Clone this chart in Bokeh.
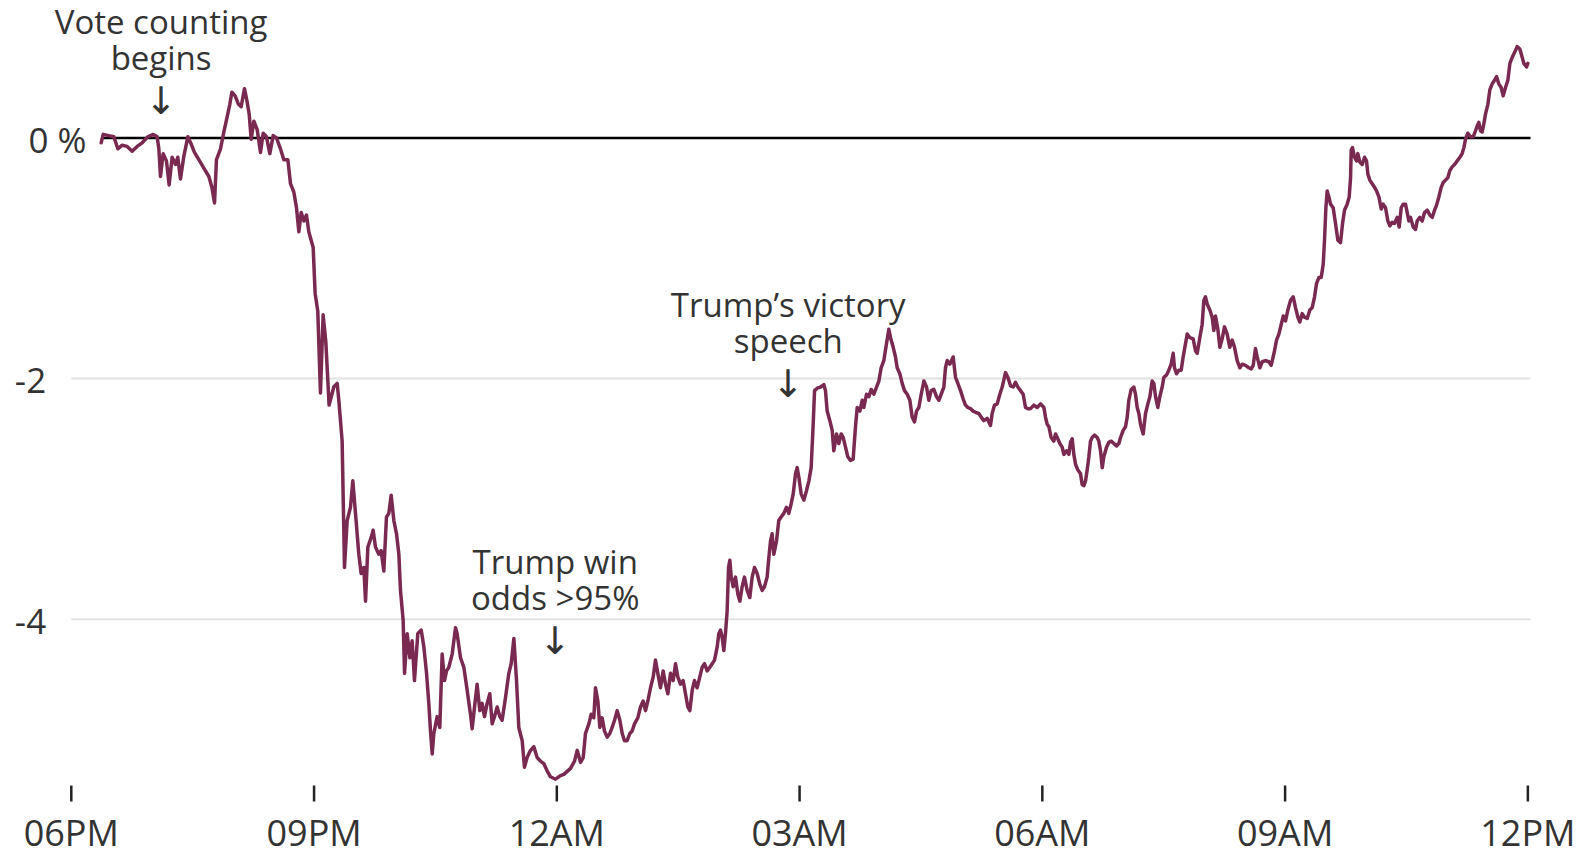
from bokeh.plotting import figure
from bokeh.models import Label, Range1d
from bokeh.embed import file_html
from bokeh.resources import INLINE

# ---- data: hours after 6PM (Nov 8) and market change in % ----
hours = [
    0.369, 0.394, 0.464, 0.526, 0.575, 0.629, 0.690, 0.752, 0.814, 0.876, 0.946, 1.012, 1.061, 1.082, 1.102,
    1.135, 1.176, 1.209, 1.246, 1.288, 1.316, 1.349, 1.391, 1.440, 1.481, 1.522, 1.576, 1.638, 1.700, 1.737,
    1.770, 1.794, 1.844, 1.885, 1.918, 1.959, 1.984, 2.025, 2.066, 2.099, 2.140, 2.173, 2.198, 2.223, 2.256,
    2.297, 2.338, 2.371, 2.412, 2.453, 2.495, 2.536, 2.585, 2.626, 2.676, 2.709, 2.750, 2.783, 2.812, 2.841,
    2.874, 2.906, 2.935, 2.989, 3.013, 3.046, 3.079, 3.112, 3.145, 3.186,
    3.244, 3.286, 3.306, 3.347, 3.376, 3.409, 3.450, 3.479, 3.512, 3.553, 3.582, 3.615, 3.636, 3.665, 3.706,
    3.730, 3.759, 3.800, 3.829, 3.862, 3.895, 3.924, 3.953, 3.986, 4.019, 4.048, 4.068, 4.101, 4.118, 4.151,
    4.184, 4.212, 4.241, 4.282, 4.324, 4.357, 4.390, 4.418, 4.439, 4.460, 4.480, 4.521, 4.554, 4.583, 4.612,
    4.637, 4.665, 4.707, 4.748, 4.768, 4.810, 4.851, 4.892, 4.933, 4.954, 4.983, 5.015, 5.048, 5.077, 5.106,
    5.139, 5.172, 5.201, 5.230, 5.263, 5.296, 5.324, 5.366, 5.407, 5.436, 5.469, 5.502, 5.530, 5.572, 5.600,
    5.633, 5.675, 5.716, 5.757, 5.798, 5.839, 5.880, 5.922, 5.983, 6.045,
    6.087, 6.169, 6.219, 6.252, 6.293, 6.326, 6.354, 6.396, 6.425, 6.457, 6.478, 6.507, 6.532, 6.560, 6.589,
    6.622, 6.655, 6.684, 6.713, 6.746, 6.779, 6.808, 6.836, 6.869, 6.902, 6.931, 6.960, 7.001, 7.034, 7.067,
    7.096, 7.125, 7.158, 7.191, 7.219, 7.248, 7.281, 7.314, 7.343, 7.372, 7.405, 7.438, 7.467, 7.495, 7.528,
    7.561, 7.590, 7.619, 7.644, 7.673, 7.701, 7.734, 7.767, 7.796, 7.825, 7.858, 7.891, 7.920, 7.949, 7.982,
    8.002, 8.023, 8.043, 8.064, 8.084, 8.105, 8.122, 8.138, 8.155, 8.179, 8.208, 8.237, 8.262, 8.290, 8.319,
    8.352, 8.385, 8.414, 8.443, 8.476, 8.509, 8.538, 8.566, 8.599, 8.620, 8.641, 8.661, 8.682, 8.715, 8.743,
    8.772, 8.805, 8.838, 8.867, 8.896, 8.921, 8.950, 8.970, 8.991, 9.020, 9.053,
    9.086, 9.115, 9.143, 9.168, 9.185, 9.218, 9.259, 9.300, 9.320, 9.341, 9.374, 9.403, 9.423, 9.456, 9.485,
    9.514, 9.539, 9.568, 9.596, 9.629, 9.662, 9.691, 9.712, 9.745, 9.774, 9.794, 9.827, 9.856, 9.885, 9.918,
    9.951, 9.980, 10.008, 10.041, 10.074, 10.103, 10.124, 10.157, 10.185, 10.206, 10.239, 10.268, 10.297,
    10.330, 10.363, 10.391, 10.420, 10.445, 10.474, 10.503, 10.536, 10.569, 10.597, 10.626, 10.659, 10.692,
    10.721, 10.750, 10.783, 10.803, 10.824, 10.857, 10.898, 10.927, 10.956, 10.989, 11.022, 11.050, 11.079,
    11.112, 11.145, 11.174, 11.215, 11.244, 11.277, 11.318, 11.359, 11.380, 11.409, 11.442, 11.475, 11.504,
    11.545, 11.574, 11.607, 11.640, 11.668, 11.697, 11.730, 11.763, 11.792, 11.821,
    11.854, 11.895, 11.936, 11.978, 12.019, 12.039, 12.060, 12.081, 12.109, 12.142, 12.163, 12.184, 12.216,
    12.245, 12.266, 12.299, 12.328, 12.348, 12.369, 12.389, 12.410, 12.439, 12.472, 12.492, 12.513, 12.534,
    12.554, 12.575, 12.595, 12.616, 12.645, 12.678, 12.698, 12.719, 12.740, 12.760, 12.793, 12.822, 12.851,
    12.884, 12.917, 12.946, 12.966, 12.999, 13.028, 13.049, 13.069, 13.098, 13.131, 13.151, 13.172, 13.193,
    13.213, 13.246, 13.275, 13.304, 13.329, 13.357, 13.378, 13.399, 13.427, 13.452, 13.481, 13.502, 13.535,
    13.563, 13.592, 13.617, 13.633, 13.658, 13.687, 13.716, 13.740, 13.769, 13.790, 13.823, 13.864, 13.893,
    13.914, 13.946, 13.975, 13.996, 14.016, 14.037, 14.070, 14.099, 14.119, 14.140, 14.169, 14.194, 14.222,
    14.251, 14.284, 14.317, 14.346, 14.375, 14.408, 14.441, 14.470, 14.511, 14.552, 14.581, 14.606, 14.634,
    14.655, 14.688, 14.717, 14.758, 14.799, 14.828,
    14.869, 14.894, 14.923, 14.952, 14.977, 15.005, 15.034, 15.067, 15.100, 15.129, 15.158, 15.182, 15.211,
    15.240, 15.273, 15.306, 15.335, 15.364, 15.388, 15.417, 15.446, 15.471, 15.487, 15.504, 15.520, 15.541,
    15.561, 15.594, 15.623, 15.652, 15.685, 15.710, 15.734, 15.767, 15.792, 15.809, 15.817, 15.833, 15.858,
    15.883, 15.899, 15.924, 15.953, 15.982, 16.006, 16.023, 16.047, 16.076, 16.105, 16.130, 16.159, 16.188,
    16.212, 16.241, 16.270, 16.295, 16.323, 16.352, 16.385, 16.410, 16.435, 16.459, 16.488, 16.509, 16.529,
    16.550, 16.583, 16.612, 16.632, 16.665, 16.694, 16.723, 16.756, 16.789, 16.818, 16.847, 16.871, 16.900,
    16.929, 16.954, 16.982, 17.011, 17.036, 17.065, 17.094, 17.127, 17.160, 17.188, 17.209, 17.230, 17.258,
    17.291, 17.324, 17.353, 17.374, 17.394, 17.415, 17.436, 17.456, 17.477, 17.506, 17.530, 17.559, 17.588,
    17.613, 17.641, 17.670, 17.695, 17.724, 17.753, 17.778, 17.806, 17.835, 17.868, 17.901, 17.930, 17.951,
    17.984, 18.000,
]

change = [
    -0.04, 0.03, 0.02, 0.01, -0.09, -0.06, -0.07, -0.11, -0.07, -0.04, 0.01, 0.03, 0.01, -0.09, -0.32,
    -0.13, -0.19, -0.39, -0.16, -0.22, -0.16, -0.34, -0.15, 0.01, -0.05, -0.12, -0.18, -0.25, -0.32, -0.41,
    -0.54, -0.18, -0.09, 0.05, 0.15, 0.28, 0.38, 0.35, 0.28, 0.26, 0.41, 0.30, 0.20, -0.01, 0.14,
    0.07, -0.12, 0.04, 0.01, -0.13, 0.02, 0.00, -0.09, -0.18, -0.18, -0.38, -0.45, -0.58, -0.78, -0.62,
    -0.69, -0.64, -0.78, -0.91, -1.29, -1.44, -2.12, -1.47, -1.69, -2.22,
    -2.07, -2.04, -2.18, -2.52, -3.57, -3.18, -3.07, -2.85, -3.12, -3.46, -3.62, -3.57, -3.85, -3.40, -3.32,
    -3.26, -3.40, -3.46, -3.43, -3.60, -3.15, -3.12, -2.97, -3.18, -3.29, -3.46, -3.76, -4.01, -4.45, -4.12,
    -4.32, -4.18, -4.51, -4.12, -4.09, -4.23, -4.45, -4.70, -4.93, -5.12, -4.95, -4.81, -4.90, -4.29, -4.51,
    -4.43, -4.40, -4.29, -4.07, -4.12, -4.32, -4.40, -4.59, -4.79, -4.91, -4.73, -4.54, -4.76, -4.70, -4.81,
    -4.70, -4.62, -4.87, -4.81, -4.73, -4.81, -4.84, -4.65, -4.45, -4.37, -4.16, -4.51, -4.90, -5.01, -5.23,
    -5.15, -5.09, -5.06, -5.15, -5.18, -5.20, -5.26, -5.31, -5.33, -5.30,
    -5.29, -5.24, -5.18, -5.09, -5.19, -5.15, -4.95, -4.87, -4.79, -4.82, -4.57, -4.68, -4.90, -4.82, -4.93,
    -4.98, -4.95, -4.90, -4.84, -4.76, -4.84, -4.95, -5.01, -5.01, -4.95, -4.93, -4.87, -4.82, -4.73, -4.68,
    -4.76, -4.68, -4.57, -4.48, -4.34, -4.45, -4.57, -4.43, -4.54, -4.62, -4.45, -4.51, -4.37, -4.48, -4.54,
    -4.51, -4.62, -4.73, -4.76, -4.59, -4.51, -4.57, -4.48, -4.40, -4.37, -4.43, -4.40, -4.37, -4.34, -4.23,
    -4.12, -4.09, -4.15, -4.26, -4.12, -3.93, -3.57, -3.51, -3.65, -3.73, -3.65, -3.79, -3.85, -3.73, -3.65,
    -3.76, -3.82, -3.65, -3.57, -3.62, -3.71, -3.76, -3.73, -3.65, -3.49, -3.35, -3.29, -3.46, -3.35, -3.18,
    -3.15, -3.12, -3.07, -3.12, -3.04, -2.96, -2.79, -2.74, -2.82, -2.96, -3.01,
    -2.93, -2.85, -2.74, -2.38, -2.10, -2.08, -2.07, -2.05, -2.10, -2.27, -2.35, -2.43, -2.60, -2.46, -2.54,
    -2.46, -2.49, -2.57, -2.65, -2.68, -2.67, -2.40, -2.24, -2.27, -2.18, -2.24, -2.13, -2.15, -2.09, -2.13,
    -2.07, -2.02, -1.91, -1.85, -1.71, -1.59, -1.66, -1.74, -1.82, -1.91, -1.96, -2.04, -2.10,
    -2.13, -2.18, -2.32, -2.36, -2.27, -2.24, -2.13, -2.02, -2.07, -2.18, -2.10, -2.09, -2.15,
    -2.18, -2.13, -2.07, -1.91, -1.85, -1.88, -1.82, -1.99, -2.04, -2.10, -2.17, -2.22, -2.24,
    -2.25, -2.27, -2.28, -2.29, -2.32, -2.35, -2.33, -2.39, -2.29, -2.22, -2.21, -2.13, -2.07,
    -1.95, -1.99, -2.06, -2.07, -2.03, -2.07, -2.10, -2.13, -2.24, -2.25,
    -2.25, -2.22, -2.24, -2.21, -2.24, -2.32, -2.38, -2.40, -2.49, -2.52, -2.46, -2.49, -2.54,
    -2.57, -2.63, -2.60, -2.63, -2.53, -2.50, -2.63, -2.71, -2.76, -2.79, -2.88, -2.89, -2.85,
    -2.76, -2.65, -2.52, -2.49, -2.47, -2.49, -2.52, -2.60, -2.74, -2.65, -2.57, -2.53, -2.52,
    -2.54, -2.56, -2.54, -2.49, -2.43, -2.40, -2.32, -2.18, -2.09, -2.07, -2.13, -2.24, -2.29,
    -2.38, -2.46, -2.29, -2.21, -2.15, -2.02, -2.04, -2.15, -2.24, -2.15, -2.07, -1.99, -1.97,
    -1.93, -1.88, -1.79, -1.91, -1.96, -1.93, -1.93, -1.82, -1.71, -1.63, -1.66, -1.67, -1.77,
    -1.79, -1.66, -1.55, -1.35, -1.32, -1.38, -1.43, -1.49, -1.60, -1.48, -1.59, -1.74, -1.67,
    -1.57, -1.63, -1.74, -1.68, -1.74, -1.85, -1.91, -1.88, -1.89, -1.91, -1.92, -1.89, -1.75,
    -1.82, -1.91, -1.86, -1.85, -1.86, -1.89,
    -1.77, -1.68, -1.63, -1.55, -1.48, -1.52, -1.43, -1.35, -1.32, -1.41, -1.49, -1.53, -1.46,
    -1.49, -1.50, -1.43, -1.41, -1.32, -1.21, -1.16, -1.16, -1.05, -0.85, -0.58, -0.44, -0.49,
    -0.55, -0.58, -0.71, -0.85, -0.87, -0.71, -0.60, -0.55, -0.49, -0.33, -0.10, -0.08, -0.16,
    -0.19, -0.13, -0.20, -0.22, -0.16, -0.19, -0.30, -0.35, -0.38, -0.41, -0.44, -0.49, -0.59,
    -0.55, -0.58, -0.69, -0.73, -0.70, -0.71, -0.66, -0.74, -0.58, -0.55, -0.55, -0.62, -0.69,
    -0.66, -0.74, -0.76, -0.69, -0.66, -0.69, -0.62, -0.60, -0.64, -0.66, -0.60, -0.56, -0.49,
    -0.41, -0.37, -0.35, -0.33, -0.27, -0.24, -0.22, -0.19, -0.16, -0.13, -0.08, -0.01, 0.04,
    0.01, 0.01, 0.06, 0.10, 0.13, 0.06, 0.05, 0.12, 0.20, 0.28, 0.40, 0.45, 0.48,
    0.51, 0.45, 0.42, 0.35, 0.42, 0.48, 0.62, 0.67, 0.71, 0.76, 0.74, 0.67, 0.62,
    0.59, 0.62,
]

tick_hours = [0, 3, 6, 9, 12, 15, 18]
tick_labels = ["06PM", "09PM", "12AM", "03AM", "06AM", "09AM", "12PM"]
y_ticks = [0, -2, -4]
y_tick_labels = ["0 %", "-2", "-4"]
grid_ticks = [-2, -4]

event_hours = [1.11, 5.98, 8.86]
event_line1 = ["Vote counting", "Trump win", "Trump\u2019s victory"]
event_line2 = ["begins", "odds >95%", "speech"]

# ---- layout (pixel geometry of the canvas) ----
W, H = 1586, 849
ORIGIN_X = 70.8      # pixel column of 06PM
ZERO_Y = 137.5       # pixel row of 0 %
PX_PER_HOUR = 80.92
PX_PER_PCT = 120.3
BASELINE_FIX = 0.42  # Label baseline correction, in em


def hx(px):
    return (px - ORIGIN_X) / PX_PER_HOUR


def vy(py):
    return (ZERO_Y - py) / PX_PER_PCT


line_end = hx(1530)
tick_top, tick_bottom = vy(785), vy(801)
xlabel_base = vy(847)
event_base = [vy(34.5), vy(574.5), vy(317.5)]
ylabel_center_px = [57, 30, 30]

LINE_COLOR = "#7a2950"
TEXT_COLOR = "#333333"
FONT = "Open Sans"
ANN_FS, XL_FS, YL_FS = 33, 36, 35

p = figure(width=W, height=H, output_backend="svg", toolbar_location=None,
           x_range=Range1d(hx(0), hx(W)), y_range=Range1d(vy(H), vy(0)),
           x_axis_type=None, y_axis_type=None,
           min_border_left=0, min_border_right=0, min_border_top=0, min_border_bottom=0)
p.outline_line_color = None
p.background_fill_color = "white"
p.border_fill_color = "white"
p.grid.visible = False

# light grid lines
p.segment(x0=[tick_hours[0]] * len(grid_ticks), x1=[line_end] * len(grid_ticks),
          y0=grid_ticks, y1=grid_ticks, line_color="#e2e2e2", line_width=2)

# zero baseline
p.segment(x0=[hours[0]], y0=[0], x1=[line_end], y1=[0], line_color="black", line_width=2.5)

# main line
p.line(hours, change, line_color=LINE_COLOR, line_width=3.5, line_join="round", line_cap="round")

# x axis ticks
p.segment(x0=tick_hours, x1=tick_hours, y0=[tick_top] * len(tick_hours),
          y1=[tick_bottom] * len(tick_hours), line_color="#222222", line_width=2.5)

# x tick labels
for t, lab in zip(tick_hours, tick_labels):
    p.add_layout(Label(x=t, y=xlabel_base, y_offset=BASELINE_FIX * XL_FS, text=lab,
                       text_align="center", text_baseline="alphabetic", text_font=FONT,
                       text_font_size=f"{XL_FS}px", text_color=TEXT_COLOR))

# y tick labels
for v, lab, cx in zip(y_ticks, y_tick_labels, ylabel_center_px):
    p.add_layout(Label(x=hx(cx), y=v, y_offset=-16.5 + BASELINE_FIX * YL_FS, text=lab,
                       text_align="center", text_baseline="alphabetic", text_font=FONT,
                       text_font_size=f"{YL_FS}px", text_color=TEXT_COLOR))

# event annotations
for ex, ey, l1, l2 in zip(event_hours, event_base, event_line1, event_line2):
    p.add_layout(Label(x=ex, y=ey, y_offset=BASELINE_FIX * ANN_FS, text=l1,
                       text_align="center", text_baseline="alphabetic",
                       text_font=FONT, text_font_size=f"{ANN_FS}px", text_color=TEXT_COLOR))
    p.add_layout(Label(x=ex, y=ey, y_offset=-36 + BASELINE_FIX * ANN_FS, text=l2,
                       text_align="center", text_baseline="alphabetic", text_font=FONT,
                       text_font_size=f"{ANN_FS}px", text_color=TEXT_COLOR))
    p.add_layout(Label(x=ex, y=ey, y_offset=-66, text="\u2193", text_align="center",
                       text_baseline="middle", text_font="DejaVu Sans", text_font_size="38px",
                       text_color=TEXT_COLOR))

open("out.html", "w").write(file_html(p, INLINE))
